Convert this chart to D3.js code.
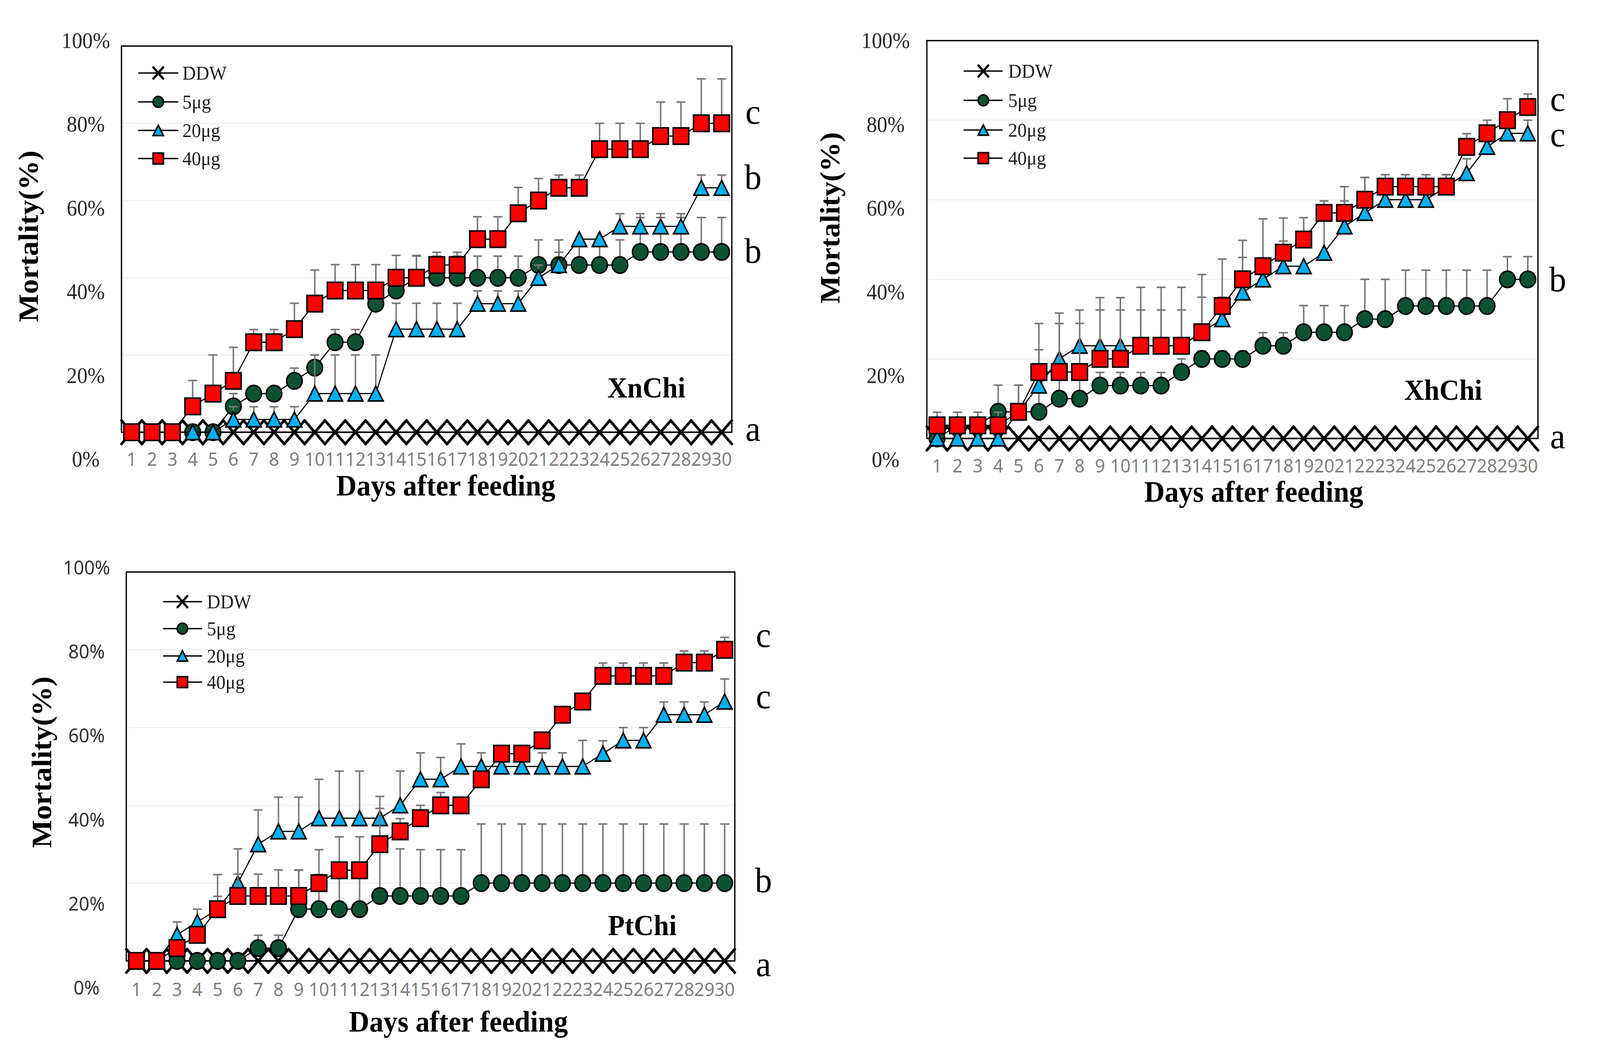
<!DOCTYPE html>
<html>
<head>
<meta charset="utf-8">
<script src="https://cdn.jsdelivr.net/npm/d3@7"></script>
<style>
  html, body { margin: 0; padding: 0; background: #fff; overflow: hidden; }
  #chart { position: absolute; left: 0; top: 0; width: 100vw; height: 100vh; display: block; }
</style>
</head>
<body>
<svg id="chart"></svg>
<script>
var W = 4307, H = 2702,
    SERIF = "'Liberation Serif', 'Times New Roman', serif",
    SANS = "'Noto Sans', 'Open Sans', sans-serif",
    LINE_COLOR = "black",
    ERR_COLOR = "#787878",
    GRID_COLOR = "#eeeeee";

// categories and labels
var days = [1, 2, 3, 4, 5, 6, 7, 8, 9, 10, 11, 12, 13, 14, 15, 16, 17, 18, 19, 20, 21, 22, 23, 24, 25, 26, 27, 28, 29, 30];
var yTicks = [0, 20, 40, 60, 80, 100];
var seriesNames = ["DDW", "5μg", "20μg", "40μg"];
var panelNames = ["XnChi", "XhChi", "PtChi"];

// XnChi
var xnDDW = [0, 0, 0, 0, 0, 0, 0, 0, 0, 0, 0, 0, 0, 0, 0, 0, 0, 0, 0, 0, 0, 0, 0, 0, 0, 0, 0, 0, 0, 0];
var xn5 = [0, 0, 0, 0, 0, 6.7, 10, 10, 13.3, 16.7, 23.3, 23.3, 33.3, 36.7, 40, 40, 40, 40, 40, 40, 43.3, 43.3, 43.3, 43.3, 43.3, 46.7, 46.7, 46.7, 46.7, 46.7];
var xn5Err = [0, 0, 0, 0, 0, 3.3, 0, 0, 3.3, 3.3, 3.3, 3.3, 3.3, 3.3, 5.6, 5.6, 5.6, 5.6, 5.6, 5.6, 6.5, 6.5, 6.5, 6.5, 6.5, 8.9, 8.9, 8.9, 8.9, 8.9];
var xn20 = [0, 0, 0, 0, 0, 3.3, 3.3, 3.3, 3.3, 10, 10, 10, 10, 26.7, 26.7, 26.7, 26.7, 33.3, 33.3, 33.3, 40, 43.3, 50, 50, 53.3, 53.3, 53.3, 53.3, 63.3, 63.3];
var xn20Err = [0, 0, 0, 0, 0, 3.3, 3.3, 3.3, 3.3, 10, 10, 10, 10, 6.7, 6.7, 6.7, 6.7, 3.3, 3.3, 3.3, 3.3, 3.3, 0, 0, 3.3, 3.3, 3.3, 3.3, 3.3, 3.3];
var xn40 = [0, 0, 0, 6.7, 10, 13.3, 23.3, 23.3, 26.7, 33.3, 36.7, 36.7, 36.7, 40, 40, 43.3, 43.3, 50, 50, 56.7, 60, 63.3, 63.3, 73.3, 73.3, 73.3, 76.7, 76.7, 80, 80];
var xn40Err = [0, 0, 0, 6.7, 10, 8.7, 3.3, 3.3, 6.7, 8.7, 6.7, 6.7, 6.7, 5.8, 5.8, 3.3, 3.3, 5.8, 5.8, 6.7, 5.7, 3.3, 3.3, 6.7, 6.7, 6.7, 8.8, 8.8, 11.5, 11.5];
var xnSig = ["c", "b", "b", "a"];

// XhChi
var xhDDW = [0, 0, 0, 0, 0, 0, 0, 0, 0, 0, 0, 0, 0, 0, 0, 0, 0, 0, 0, 0, 0, 0, 0, 0, 0, 0, 0, 0, 0, 0];
var xh5 = [0, 3.3, 3.3, 6.7, 6.7, 6.7, 10, 10, 13.3, 13.3, 13.3, 13.3, 16.7, 20, 20, 20, 23.3, 23.3, 26.7, 26.7, 26.7, 30, 30, 33.3, 33.3, 33.3, 33.3, 33.3, 40, 40];
var xh5Err = [0, 0, 0, 6.7, 6.7, 5, 5, 5, 3.3, 3.3, 3.3, 3.3, 3.3, 2, 2, 2, 3.3, 3.3, 6.7, 6.7, 6.7, 10, 10, 9, 9, 9, 9, 9, 5.7, 5.7];
var xh20 = [0, 0, 0, 0, 6.7, 13.3, 20, 23.3, 23.3, 23.3, 23.3, 23.3, 23.3, 26.7, 30, 36.7, 40, 43.3, 43.3, 46.7, 53.3, 56.7, 60, 60, 60, 63.3, 66.7, 73.3, 76.7, 76.7];
var xh20Err = [0, 0, 0, 0, 0, 9, 11.5, 9, 12.1, 12.1, 14.7, 14.7, 14.7, 14.5, 5.5, 8.8, 5.1, 6.3, 0, 13, 10, 8.9, 3.3, 3.3, 3.3, 3, 3.6, 3.3, 3.3, 3.3];
var xh40 = [3.3, 3.3, 3.3, 3.3, 6.7, 16.7, 16.7, 16.7, 20, 20, 23.3, 23.3, 23.3, 26.7, 33.3, 40, 43.3, 46.7, 50, 56.7, 56.7, 60, 63.3, 63.3, 63.3, 63.3, 73.3, 76.7, 80, 83.3];
var xh40Err = [3.3, 3.3, 3.3, 3.3, 6.7, 12.2, 12.2, 12.2, 12.3, 12.3, 9, 9, 9, 8.8, 11.8, 9.8, 11.9, 8.7, 5.5, 3, 3, 5.6, 3, 3, 3, 3, 3.3, 3.3, 5.4, 3.3];
var xhSig = ["c", "c", "b", "a"];

// PtChi
var ptDDW = [0, 0, 0, 0, 0, 0, 0, 0, 0, 0, 0, 0, 0, 0, 0, 0, 0, 0, 0, 0, 0, 0, 0, 0, 0, 0, 0, 0, 0, 0];
var pt5 = [0, 0, 0, 0, 0, 0, 3.3, 3.3, 13.3, 13.3, 13.3, 13.3, 16.7, 16.7, 16.7, 16.7, 16.7, 20, 20, 20, 20, 20, 20, 20, 20, 20, 20, 20, 20, 20];
var pt5Err = [0, 0, 0, 0, 0, 0, 3.3, 3.3, 10, 8.9, 8.9, 8.9, 12.1, 12.1, 11.9, 11.9, 11.9, 15.2, 15.2, 15.2, 15.2, 15.2, 15.2, 15.2, 15.2, 15.2, 15.2, 15.2, 15.2, 15.2];
var pt20 = [0, 0, 6.7, 10, 13.3, 20, 30, 33.3, 33.3, 36.7, 36.7, 36.7, 36.7, 40, 46.7, 46.7, 50, 50, 50, 50, 50, 50, 50, 53.3, 56.7, 56.7, 63.3, 63.3, 63.3, 66.7];
var pt20Err = [0, 0, 3.3, 3.3, 8.9, 8.8, 8.8, 8.8, 8.8, 10, 12.1, 12.1, 5.6, 8.8, 6.8, 5.6, 5.8, 3.5, 0, 0, 3.5, 3.5, 6.7, 3.3, 3.3, 3.3, 3.3, 3.3, 3.3, 5.8];
var pt40 = [0, 0, 3.3, 6.7, 13.3, 16.7, 16.7, 16.7, 16.7, 20, 23.3, 23.3, 30, 33.3, 36.7, 40, 40, 46.7, 53.3, 53.3, 56.7, 63.3, 66.7, 73.3, 73.3, 73.3, 73.3, 76.7, 76.7, 80];
var pt40Err = [0, 0, 0, 0, 3.3, 5.6, 5.6, 6.7, 6.7, 8.6, 8.6, 8.6, 9.2, 3.3, 3.3, 3.3, 0, 0, 0, 0, 0, 0, 0, 3.3, 3.3, 3.3, 3.3, 3, 3, 3.2];
var ptSig = ["c", "c", "b", "a"];

var SERIES_STYLE = [
    {shape: "x", fill: "none"},
    {shape: "circle", fill: "#0b5233"},
    {shape: "triangle", fill: "#00b0f0"},
    {shape: "square", fill: "#ff0000"}
];

// layout of the three panels
var PANELS = [
    {name: panelNames[0], sig: xnSig, vals: [xnDDW, xn5, xn20, xn40], errs: [null, xn5Err, xn20Err, xn40Err],
     left: 327, right: 1970, top: 118, bottom: 1107,
     yFont: SERIF, ySize: 56, yColor: "#262626", yLabX: 231, yLab0: 1176, yLab100: 104, xLabY: 1193,
     legLine: [372, 480], legMark: 426, legText: 491, legRows: [187, 261, 334, 406],
     nameX: 1740, nameY: 1018, sigX: 2027, sigY: [317, 484, 673, 1129],
     yTitle: [102, 605], xTitle: [1200, 1269]},
    {name: panelNames[1], sig: xhSig, vals: [xhDDW, xh5, xh20, xh40], errs: [null, xh5Err, xh20Err, xh40Err],
     left: 2495, right: 4140, top: 104, bottom: 1123,
     yFont: SERIF, ySize: 56, yColor: "#262626", yLabX: 2384, yLab0: 1177, yLab100: 104, xLabY: 1210,
     legLine: [2594, 2699], legMark: 2647, legText: 2714, legRows: [182, 257, 333, 405],
     nameX: 3885, nameY: 1024, sigX: 4193, sigY: [284, 375, 746, 1148],
     yTitle: [2260, 558], xTitle: [3375, 1285]},
    {name: panelNames[2], sig: ptSig, vals: [ptDDW, pt5, pt20, pt40], errs: [null, pt5Err, pt20Err, pt40Err],
     left: 340, right: 1978, top: 1465, bottom: 2461,
     yFont: SANS, ySize: 50, yColor: "#333333", yLabX: 233, yLab0: 2530, yLab100: 1454, xLabY: 2551,
     legLine: [439, 544], legMark: 491, legText: 557, legRows: [1541, 1610, 1680, 1747],
     nameX: 1729, nameY: 2395, sigX: 2055, sigY: [1657, 1814, 2285, 2500],
     yTitle: [138, 1952], xTitle: [1234, 2642]}
];

var svg = d3.select("#chart")
    .attr("viewBox", "0 0 " + W + " " + H)
    .attr("preserveAspectRatio", "none");

svg.append("rect")
    .attr("width", W)
    .attr("height", H)
    .style("fill", "white");

function drawMarker(g, shape, cx, cy, size, fill) {
    // size = half width of the marker
    if (shape === "x") {
        var hx = size, hy = size * 1.1;
        g.append("path")
            .attr("d", "M" + (cx - hx) + "," + (cy - hy) + "L" + (cx + hx) + "," + (cy + hy) +
                       "M" + (cx - hx) + "," + (cy + hy) + "L" + (cx + hx) + "," + (cy - hy))
            .style("stroke", LINE_COLOR)
            .style("stroke-width", size > 20 ? 7 : 6)
            .style("stroke-linecap", "round")
            .style("fill", "none");
    } else if (shape === "circle") {
        g.append("circle")
            .attr("cx", cx).attr("cy", cy).attr("r", size)
            .style("fill", fill).style("stroke", LINE_COLOR).style("stroke-width", 4);
    } else if (shape === "triangle") {
        var h = size * 0.95;
        g.append("path")
            .attr("d", "M" + cx + "," + (cy - h) + "L" + (cx + size) + "," + (cy + h) + "L" + (cx - size) + "," + (cy + h) + "Z")
            .style("fill", fill).style("stroke", LINE_COLOR).style("stroke-width", 4)
            .style("stroke-linejoin", "miter");
    } else {
        g.append("rect")
            .attr("x", cx - size).attr("y", cy - size)
            .attr("width", size * 2).attr("height", size * 2)
            .style("fill", fill).style("stroke", LINE_COLOR).style("stroke-width", 4);
    }
}

function drawPanel(p) {
    var g = svg.append("g").attr("class", "panel");

    var x = d3.scaleBand()
        .domain(days)
        .range([p.left, p.right]);
    var y = d3.scaleLinear()
        .domain([0, 100])
        .range([p.bottom, p.top]);
    var yLab = d3.scaleLinear()
        .domain([0, 100])
        .range([p.yLab0, p.yLab100]);
    var half = x.bandwidth() / 2;
    var cx = function(i) { return x(days[i]) + half; };

    // gridlines
    g.selectAll(".grid")
        .data(yTicks.filter(function(t) { return t > 0 && t < 100; }))
      .enter().append("line")
        .attr("class", "grid")
        .attr("x1", p.left).attr("x2", p.right)
        .attr("y1", function(d) { return y(d); })
        .attr("y2", function(d) { return y(d); })
        .style("stroke", GRID_COLOR)
        .style("stroke-width", 2.5);

    // plot area border
    g.append("rect")
        .attr("x", p.left).attr("y", p.top)
        .attr("width", p.right - p.left).attr("height", p.bottom - p.top)
        .style("fill", "none")
        .style("stroke", LINE_COLOR)
        .style("stroke-width", 3.5);

    // y tick labels
    g.selectAll(".ytick")
        .data(yTicks)
      .enter().append("text")
        .attr("class", "ytick")
        .attr("x", p.yLabX)
        .attr("y", function(d) { return yLab(d) + p.ySize * 0.34; })
        .style("font-family", p.yFont)
        .style("font-size", p.ySize + "px")
        .style("fill", p.yColor)
        .style("text-anchor", "middle")
        .text(function(d) { return d + "%"; });

    // x tick labels
    g.selectAll(".xtick")
        .data(days)
      .enter().append("text")
        .attr("class", "xtick")
        .attr("x", function(d) { return x(d) + half; })
        .attr("y", p.xLabY)
        .style("font-family", SANS)
        .style("font-size", "48px")
        .style("fill", "#7f7f7f")
        .style("text-anchor", "middle")
        .text(function(d) { return d; });

    // axis titles
    g.append("text")
        .attr("transform", "translate(" + p.yTitle[0] + "," + p.yTitle[1] + ") rotate(-90)")
        .style("font-family", SERIF)
        .style("font-weight", "bold")
        .style("font-size", "76px")
        .style("text-anchor", "middle")
        .text("Mortality(%)");
    g.append("text")
        .attr("x", p.xTitle[0])
        .attr("y", p.xTitle[1])
        .style("font-family", SERIF)
        .style("font-weight", "bold")
        .style("font-size", "76px")
        .style("text-anchor", "middle")
        .text("Days after feeding");

    // series
    var line = d3.line()
        .x(function(d, i) { return cx(i); })
        .y(function(d) { return y(d); });

    p.vals.forEach(function(vals, s) {
        var sg = g.append("g").attr("class", "series");
        var errs = p.errs[s];
        if (errs) {
            vals.forEach(function(v, i) {
                if (!errs[i]) return;
                sg.append("line")
                    .attr("x1", cx(i)).attr("x2", cx(i))
                    .attr("y1", y(v)).attr("y2", y(v + errs[i]))
                    .style("stroke", ERR_COLOR).style("stroke-width", 4);
                sg.append("line")
                    .attr("x1", cx(i) - 12).attr("x2", cx(i) + 12)
                    .attr("y1", y(v + errs[i])).attr("y2", y(v + errs[i]))
                    .style("stroke", ERR_COLOR).style("stroke-width", 4);
            });
        }
        sg.append("path")
            .datum(vals)
            .attr("d", line)
            .style("fill", "none")
            .style("stroke", LINE_COLOR)
            .style("stroke-width", s === 0 ? 4 : 3);
        var st = SERIES_STYLE[s];
        var size = st.shape === "x" ? half : (st.shape === "triangle" ? 20 : 21);
        vals.forEach(function(v, i) {
            drawMarker(sg, st.shape, cx(i), y(v), size, st.fill);
        });
    });

    // legend
    var leg = g.append("g").attr("class", "legend");
    seriesNames.forEach(function(name, s) {
        var ry = p.legRows[s];
        leg.append("line")
            .attr("x1", p.legLine[0]).attr("x2", p.legLine[1])
            .attr("y1", ry).attr("y2", ry)
            .style("stroke", LINE_COLOR).style("stroke-width", 3.5);
        drawMarker(leg, SERIES_STYLE[s].shape, p.legMark, ry, SERIES_STYLE[s].shape === "x" ? 13 : 14, SERIES_STYLE[s].fill);
        leg.append("text")
            .attr("x", p.legText)
            .attr("y", ry + 17)
            .style("font-family", SERIF)
            .style("font-size", "50px")
            .style("fill", "#1a1a1a")
            .text(name);
    });

    // panel name
    g.append("text")
        .attr("x", p.nameX)
        .attr("y", p.nameY)
        .style("font-family", SERIF)
        .style("font-weight", "bold")
        .style("font-size", "74px")
        .style("text-anchor", "middle")
        .text(p.name);

    // significance letters
    g.selectAll(".sig")
        .data(p.sig)
      .enter().append("text")
        .attr("class", "sig")
        .attr("x", p.sigX)
        .attr("y", function(d, i) { return p.sigY[i]; })
        .style("font-family", SERIF)
        .style("font-size", "92px")
        .style("text-anchor", "middle")
        .text(function(d) { return d; });
}

PANELS.forEach(drawPanel);
</script>
</body>
</html>
